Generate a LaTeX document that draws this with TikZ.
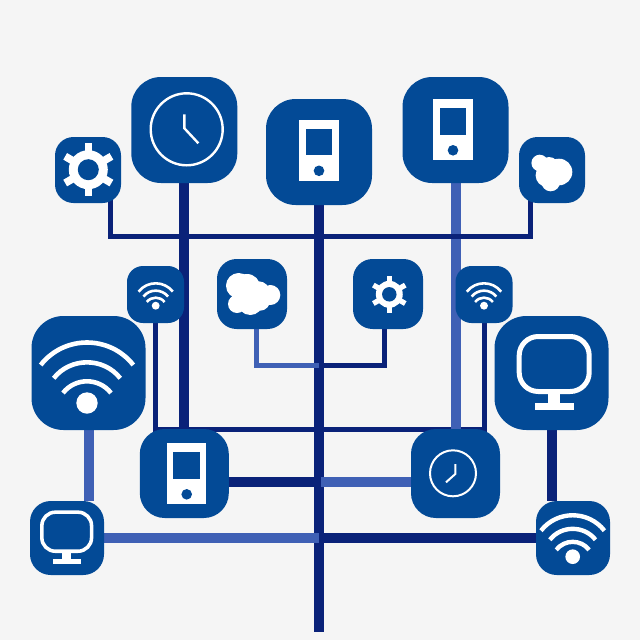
\documentclass[tikz,border=0pt]{standalone}
\usepackage{xcolor}
\usepackage{tikz}
\usetikzlibrary{backgrounds}
\definecolor{tileblue}{HTML}{034A96}
\definecolor{darkline}{HTML}{0A2279}
\definecolor{lightline}{HTML}{3F60B5}
\definecolor{paper}{HTML}{F5F5F5}
\tikzset{
    tile/.style={fill=tileblue, inner sep=0pt, minimum size=#1*1pt, rounded corners=#1*0.28pt},
    thick bar/.style={line width=10pt},
    thin bar/.style={line width=5pt},
}
% icons, drawn around a centre point, sizes in pixels of the reference
\newcommand{\phoneicon}[1]{
    \begin{scope}[shift={(#1)}]
    \fill[white] (-19.7,-30.5) rectangle (19.7,30.5);
    \fill[tileblue] (-13.3,-21.3) rectangle (13.3,5.4);
    \fill[tileblue] (0,20.8) circle (5.3pt);
    \end{scope}
}
\newcommand{\clockicon}[4]{
    \begin{scope}[shift={(#1)}]
    \draw[white,line width=#3] (0,0) circle (#2);
    \draw[white,line width=#3] #4;
    \end{scope}
}
\newcommand{\gearicon}[2]{
    \begin{scope}[shift={(#1)},scale=#2]
    \foreach \a in {0,60,...,300} {
        \fill[white,rotate=\a] (-3.8,-26.7) rectangle (3.8,0);
    }
    \fill[white] (0,0) circle (19.5pt);
    \fill[tileblue] (0,0) circle (10.5pt);
    \end{scope}
}
\newcommand{\wifiicon}[3]{
    \begin{scope}[shift={(#1)},scale=#2]
    \fill[white] (0,0) circle (10.7pt);
    \draw[white,line width=#3] (-46.3,-38) .. controls (-22.8,-68) and (22.8,-68) .. (46.3,-38);
    \draw[white,line width=#3] (-33.3,-24.7) .. controls (-16.7,-46) and (16.7,-46) .. (33.3,-24.7);
    \draw[white,line width=#3] (-24,-10) .. controls (-11.8,-25.6) and (11.8,-25.6) .. (24,-10);
    \end{scope}
}
\newcommand{\monitoricon}[2]{
    \begin{scope}[shift={(#1)},scale=#2]
    \draw[white,line width=#2*5pt,rounded corners=#2*19pt] (-35,-27.5) rectangle (35,27.5);
    \fill[white] (-6.2,29) rectangle (6.2,39);
    \fill[white] (-19.7,38.7) rectangle (19.7,46);
    \end{scope}
}

\begin{document}
\begin{tikzpicture}[x=1pt,y=-1pt]
    \useasboundingbox (0,0) rectangle (640,640);

    \node[tile=106] (clocka) at (184.3,130) {};
    \node[tile=106] (phonec) at (319,152) {};
    \node[tile=106] (phoner) at (455.5,130) {};
    \node[tile=66] (gearl) at (88,170) {};
    \node[tile=66] (cloudr) at (552,170) {};
    \node[tile=57] (wifil) at (155.5,294.5) {};
    \node[tile=70] (cloudm) at (252,294) {};
    \node[tile=70] (gearm) at (388,294) {};
    \node[tile=57] (wifir) at (484,294.5) {};
    \node[tile=114] (wifib) at (88.5,373) {};
    \node[tile=114] (monitorb) at (551.5,373) {};
    \node[tile=89] (phonel) at (184.3,473.5) {};
    \node[tile=89] (clockl) at (455.5,473.5) {};
    \node[tile=74] (monitors) at (67,538) {};
    \node[tile=74] (wifis) at (573,538) {};

    \coordinate (trunkend) at (319,632);
    \coordinate (topbusl) at (110,236);
    \coordinate (topbusr) at (530,236);
    \coordinate (lowbusl) at (155.5,429);
    \coordinate (lowbusr) at (484,429);
    \coordinate (cloudbus) at (256,365);
    \coordinate (gearbus) at (384,365);
    \coordinate (cloudjoin) at (319,365);
    \coordinate (phonejoin) at (319,482);
    \coordinate (clockjoin) at (321,482);
    \coordinate (monitorjoin) at (319,538);

    \begin{scope}[on background layer]
    \fill[paper] (0,0) rectangle (640,640);
    \draw[darkline,thick bar] (phonec.south) -- (trunkend);
    \draw[darkline,thick bar] (clocka.south) -- (phonel.north);
    \draw[darkline,thin bar] (wifil.center) -- (lowbusl) -- (lowbusr) -- (wifir.center);
    \draw[lightline,thick bar] (phoner.south) -- (clockl.north);
    \draw[darkline,thin bar] (gearl.center -| topbusl) -- (topbusl) -- (topbusr) -- (cloudr.center -| topbusr);
    \draw[lightline,thin bar] (cloudm.center -| cloudbus) -- (cloudbus) -- (cloudjoin);
    \draw[darkline,thin bar] (gearm.center -| gearbus) -- (gearbus) -- (cloudjoin);
    \draw[darkline,thick bar] (phonel.east |- phonejoin) -- (phonejoin);
    \draw[lightline,thick bar] (clockl.west |- clockjoin) -- (clockjoin);
    \draw[lightline,thick bar] (monitors.east |- monitorjoin) -- (monitorjoin);
    \draw[darkline,thick bar] (wifis.west |- monitorjoin) -- (monitorjoin);
    \draw[lightline,thick bar] (wifib.south) -- (wifib.south |- monitors.north);
    \draw[darkline,thick bar] (monitorb.south) -- (monitorb.south |- wifis.north);
    \end{scope}

    \clockicon{186.7,129.3}{36pt}{2.4pt}{(-2.3,-15) -- (-2.3,-1) -- (11.7,14)}
    \clockicon{453,473.3}{23pt}{2pt}{(2.3,-9.3) -- (2.3,0.7) -- (-7,9)}
    \phoneicon{319,150}
    \phoneicon{453,129.5}
    \phoneicon{186.7,473.5}
    \gearicon{88.3,169.7}{1}
    \gearicon{389.3,294.3}{0.69}
    \wifiicon{87,403}{1}{4.6pt}
    \wifiicon{572.7,556.7}{0.685}{4.4pt}
    \wifiicon{155.7,305.7}{0.37}{2.6pt}
    \wifiicon{484,305.7}{0.37}{2.6pt}
    \monitoricon{554.2,364}{1}
    \monitoricon{66.7,531.7}{0.71}

    % the two clouds are not the same shape
    \fill[white] (238.7,285.7) circle (12.7) (247,287.3) circle (13.3) (258.7,292.3) circle (11)
        (270.3,295) circle (10) (237,304) circle (9) (250.3,302.3) circle (12.7) (260,300.7) circle (10);
    \fill[white] (539.7,163) circle (8.3) (549,167) circle (10) (559,172) circle (13.3)
        (547.3,175.3) circle (11.7) (550.7,182) circle (9.3);
\end{tikzpicture}
\end{document}
